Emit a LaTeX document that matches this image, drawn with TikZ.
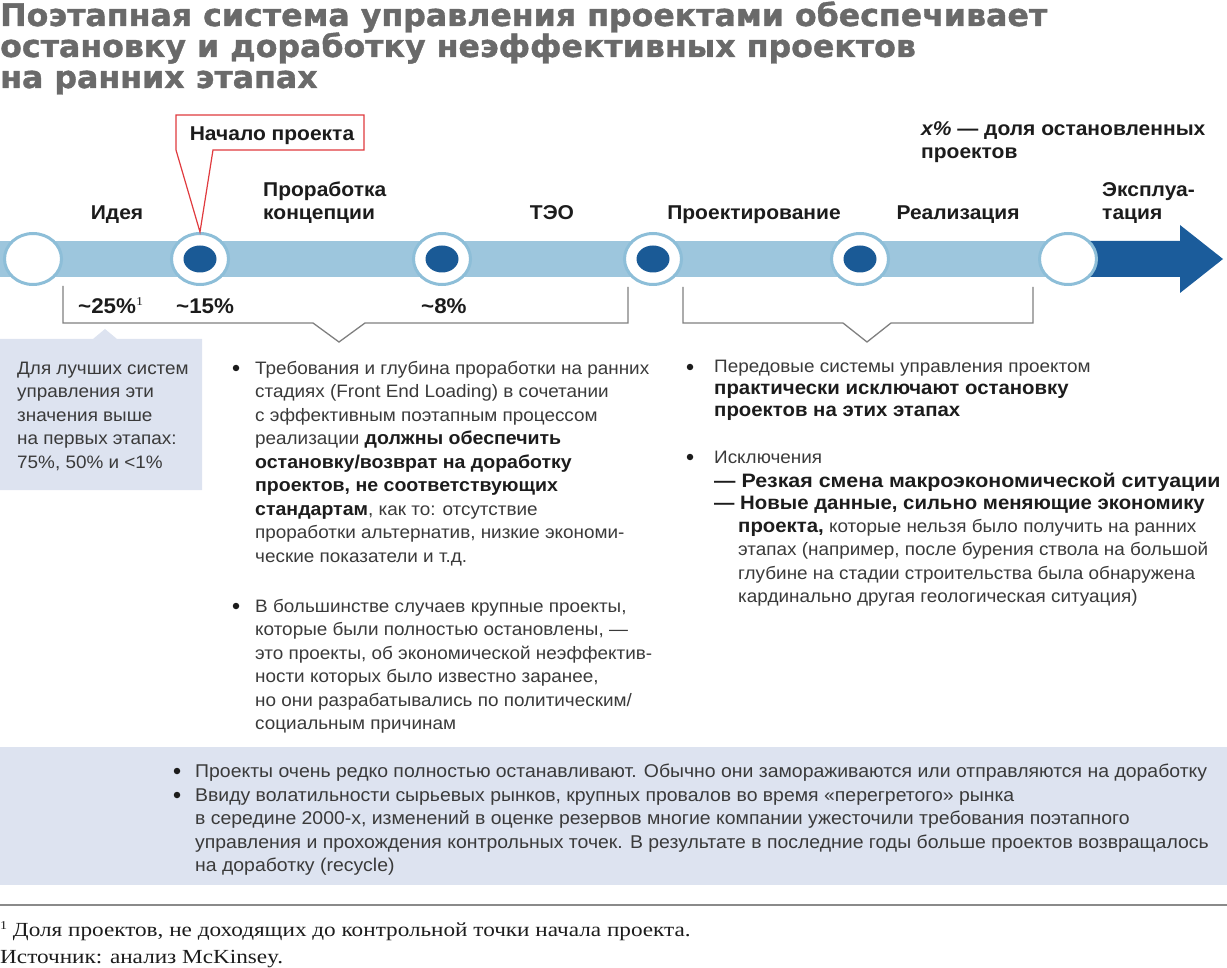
\documentclass[tikz,border=0pt]{standalone}
\usepackage{fontspec}
\usetikzlibrary{shapes.geometric}
\setmainfont{Liberation Sans}[FakeStretch=1.05]
\newfontfamily\titlef{DejaVu Sans}[FakeStretch=1.02,FakeBold=1.2]
\newfontfamily\serf{Liberation Serif}[FakeStretch=1.16]
\definecolor{barblue}{HTML}{9DC6DD}
\definecolor{ringblue}{HTML}{8DBED8}
\definecolor{dotblue}{HTML}{1A5A96}
\definecolor{arrowblue}{HTML}{1B5C9B}
\definecolor{brgray}{HTML}{7F7F7F}
\definecolor{callred}{HTML}{E03A3E}
\definecolor{boxfill}{HTML}{DDE3F0}
\definecolor{titlegray}{HTML}{6A6A6A}
\definecolor{txt}{HTML}{3A3A3A}
\definecolor{txtb}{HTML}{1C1C1C}
\definecolor{rulegray}{HTML}{8A8A8A}
\newcommand\bld[1]{{\fontsize{18.6}{23.5}\selectfont\bfseries\color{txtb}#1}}
\newcommand\bldr[1]{{\fontsize{19.4}{23.5}\selectfont\bfseries\color{txtb}#1}}
\begin{document}
\begin{tikzpicture}[x=1pt,y=-1pt,
  titletxt/.style={anchor=base west, inner sep=0pt, text=titlegray,
    font=\titlef\bfseries\fontsize{31}{34}\selectfont},
  body/.style={anchor=base west, inner sep=0pt, text=txt,
    font=\fontsize{18}{23.5}\selectfont},
  bodyb/.style={anchor=base west, inner sep=0pt, text=txt,
    font=\fontsize{18.5}{23.5}\selectfont},
  lab/.style={anchor=base, inner sep=0pt, text=txtb,
    font=\bfseries\fontsize{20}{23}\selectfont},
  perc/.style={anchor=base west, inner sep=0pt, text=txtb,
    font=\bfseries\fontsize{21.3}{24}\selectfont},
  ring/.style={ellipse, draw=ringblue, line width=3pt, fill=white,
    minimum width=57pt, minimum height=51pt, inner sep=0pt},
  dot/.style={ellipse, fill=dotblue, minimum width=33pt, minimum height=27pt, inner sep=0pt},
  bracket/.style={draw=brgray, line width=1.3pt},
  bul/.style={circle, fill=txtb, minimum size=6.5pt, inner sep=0pt},
  foot/.style={anchor=base west, inner sep=0pt, text=txtb,
    font=\serf\fontsize{20}{24}\selectfont}
]
\useasboundingbox (0,0) rectangle (1227,968);

% title
\node[titletxt] (t1) at (0,26) {Поэтапная система управления проектами обеспечивает};
\node[titletxt] (t2) at (0,57) {остановку и доработку неэффективных проектов};
\node[titletxt] (t3) at (0,88) {на ранних этапах};

% timeline bar and arrow
\fill[barblue] (0,241) rectangle (1090,277);
\fill[arrowblue] (1085,241) -- (1180,241) -- (1180,225) -- (1223,259) -- (1180,293)
  -- (1180,277) -- (1085,277) -- cycle;

\node[ring] (c1) at (33,259) {};
\node[ring] (c2) at (200,259) {};
\node[ring] (c3) at (442,259) {};
\node[ring] (c4) at (653,259) {};
\node[ring] (c5) at (860,259) {};
\node[ring] (c6) at (1068,259) {};
\node[dot] (d2) at (c2) {};
\node[dot] (d3) at (c3) {};
\node[dot] (d4) at (c4) {};
\node[dot] (d5) at (c5) {};

% stage labels
\node[lab] (l1) at (117,220) {Идея};
\node[lab, anchor=base west] (l2a) at (263,197) {Проработка};
\node[lab, anchor=base west] (l2b) at (263,220) {концепции};
\node[lab] (l3) at (552,220) {ТЭО};
\node[lab] (l4) at (754,220) {Проектирование};
\node[lab] (l5) at (958,220) {Реализация};
\node[lab, anchor=base west] (l6a) at (1102,197) {Эксплуа-};
\node[lab, anchor=base west] (l6b) at (1102,220) {тация};
\node[lab, anchor=base west] (leg1) at (921,136) {\textit{x\%} — доля остановленных};
\node[lab, anchor=base west] (leg2) at (921,159) {проектов};

% callout
\coordinate (tip) at (c2.north);
\draw[callred, line width=1.2pt, fill=white, line join=miter]
  (176,150) -- (176,115) -- (364,115) -- (364,150) -- (213,150) -- (tip) -- cycle;
\node[lab] (start) at (272,141) {Начало проекта};

% percentages
\node[perc] (p1) at (78,314) {\textasciitilde25\%{\serf\mdseries\fontsize{12}{12}\selectfont\raisebox{8pt}{1}}};
\node[perc] (p2) at (176,314) {\textasciitilde15\%};
\node[perc] (p3) at (421,314) {\textasciitilde8\%};

% brackets
\draw[bracket] (63,286) -- (63,323) -- (313,323) -- (339,342) -- (365,323) -- (628,323) -- (628,287);
\draw[bracket] (683,287) -- (683,323) -- (843,323) -- (867,342) -- (891,323) -- (1033,323) -- (1033,287);

% left box
\fill[boxfill] (0,339) -- (93,339) -- (105,329) -- (117,339) -- (202,339) -- (202,490) -- (0,490) -- cycle;
\foreach \s [count=\i from 0] in {{Для лучших систем},{управления эти},{значения выше},{на первых этапах:},{75\%, 50\% и <1\%}}
  \node[body, name=lb\i] at (17,{374+23.5*\i}) {\s};

% middle column
\node[bul] (bm1) at (236,368) {};
\foreach \s [count=\i from 0] in {
  {Требования и глубина проработки на ранних},
  {стадиях (Front End Loading) в сочетании},
  {с эффективным поэтапным процессом},
  {реализации \bld{должны обеспечить}},
  {\bld{остановку/возврат на доработку}},
  {\bld{проектов, не соответствующих}},
  {\bld{стандартам}, как то: отсутствие},
  {проработки альтернатив, низкие экономи-},
  {ческие показатели и т.д.}}
  \node[body, name=ma\i] at (255,{374+23.5*\i}) {\s};
\node[bul] (bm2) at (236,606) {};
\foreach \s [count=\i from 0] in {
  {В большинстве случаев крупные проекты,},
  {которые были полностью остановлены, —},
  {это проекты, об экономической неэффектив-},
  {ности которых было известно заранее,},
  {но они разрабатывались по политическим/},
  {социальным причинам}}
  \node[body, name=mb\i] at (255,{612+23.5*\i}) {\s};

% right column
\node[bul] (br1) at (690,367) {};
\node[body] (r1) at (714,373) {Передовые системы управления проектом};
\node[body] (r2) at (714,395) {\bldr{практически исключают остановку}};
\node[body] (r3) at (714,417) {\bldr{проектов на этих этапах}};
\node[bul] (br2) at (690,457) {};
\node[body] (r4) at (714,463) {Исключения};
\node[body] (r5) at (714,487) {\scalebox{1.05}[1]{\bldr{— Резкая смена макроэкономической ситуации}}};
\node[body] (r6) at (714,509) {\bldr{— Новые данные, сильно меняющие экономику}};
\node[body] (r7) at (738,532) {\bldr{проекта,} которые нельзя было получить на ранних};
\node[body] (r8) at (738,555) {этапах (например, после бурения ствола на большой};
\node[body] (r9) at (738,579) {глубине на стадии строительства была обнаружена};
\node[body] (r10) at (738,602) {кардинально другая геологическая ситуация)};

% bottom box
\fill[boxfill] (0,747) rectangle (1227,885);
\node[bul] (bb1) at (177,771) {};
\node[bul] (bb2) at (177,795) {};
\node[bodyb] (b1) at (195,777) {Проекты очень редко полностью останавливают. Обычно они замораживаются или отправляются на доработку};
\node[bodyb] (b2) at (195,801) {Ввиду волатильности сырьевых рынков, крупных провалов во время «перегретого» рынка};
\node[bodyb] (b3) at (195,824) {в середине 2000-х, изменений в оценке резервов многие компании ужесточили требования поэтапного};
\node[bodyb] (b4) at (195,848) {управления и прохождения контрольных точек. В результате в последние годы больше проектов возвращалось};
\node[bodyb] (b5) at (195,871) {на доработку (recycle)};

% footnotes
\draw[rulegray, line width=2pt] (0,905) -- (1227,905);
\node[foot] (f1) at (0,936) {{\fontsize{12}{12}\selectfont\raisebox{7pt}{1}} Доля проектов, не доходящих до контрольной точки начала проекта.};
\node[foot] (f2) at (0,963) {Источник: анализ McKinsey.};
\end{tikzpicture}
\end{document}
